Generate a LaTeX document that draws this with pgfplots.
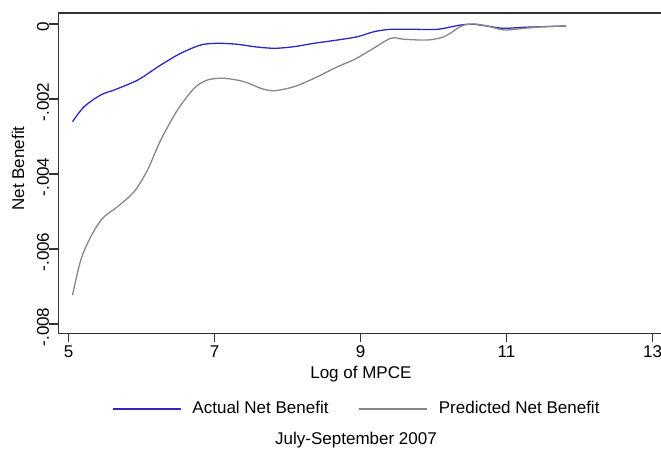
\documentclass[border=0pt]{standalone}
\usepackage{fontspec}
\setmainfont{Liberation Sans}
\usepackage{pgfplots}
\pgfplotsset{compat=1.18}
\definecolor{nbblue}{RGB}{45,40,190}
\definecolor{nbgray}{RGB}{135,135,135}
\newcommand{\bigf}{\fontsize{17bp}{20bp}\selectfont}
\begin{document}
\bigf
\begin{tikzpicture}
\useasboundingbox (-58.3bp,-115.7bp) rectangle (602.7bp,333.3bp);
\begin{axis}[
  at={(0,0)}, anchor=south west,
  scale only axis, width=602.7bp, height=320.3bp,
  xmin=4.86, xmax=13.116, ymin=-0.008248, ymax=0.000293,
  scaled y ticks=false, scaled x ticks=false,
  axis x line=box, axis y line=left,
  axis line style={-, line width=1.5bp, color=black!80},
  xtick={5,7,9,11,13}, xticklabels={5,7,9,11,13}, xtick pos=bottom,
  ytick={-0.008,-0.006,-0.004,-0.002,0},
  yticklabels={-.008,-.006,-.004,-.002,0},
  tick align=outside, major tick length=9bp,
  tick style={line width=1.3bp, color=black!80},
  every tick label/.append style={font=\bigf},
  yticklabel style={rotate=90, anchor=south, inner sep=0pt, xshift=-3bp},
  xticklabel style={anchor=north, inner sep=0pt, yshift=-3bp},
  xlabel={Log of MPCE},
  ylabel={Net Benefit},
  every axis label/.append style={font=\bigf},
  xlabel style={at={(axis description cs:0.502,0)}, yshift=-45.5bp, anchor=base},
  ylabel style={at={(axis description cs:-0.0669,0.5145)}, anchor=center},
  legend columns=2,
  legend style={at={(axis description cs:0.0891,-0.2364)}, anchor=west, draw=none, fill=none,
    inner sep=0pt, column sep=0pt, font=\bigf, nodes={inner sep=0pt}},
  legend image code/.code={\draw[#1, line width=1.3bp] (0bp,0bp) -- (68bp,0bp);},
  /tikz/every odd column/.append style={column sep=11bp},
  /tikz/every even column/.append style={column sep=30bp},
]
\addplot[nbblue, line width=1.3bp, smooth] coordinates {
(5.055,-0.002605) (5.214,-0.002205) (5.442,-0.001893) (5.625,-0.00176)
(5.853,-0.001581) (5.990,-0.001448) (6.264,-0.001093) (6.538,-0.000781)
(6.812,-0.00056) (7.041,-0.000515) (7.315,-0.000541) (7.542,-0.000605)
(7.816,-0.000648) (8.090,-0.000605) (8.364,-0.000515) (8.685,-0.000427)
(8.959,-0.000339) (9.186,-0.000205) (9.415,-0.000142) (9.734,-0.000142)
(10.055,-0.000142) (10.374,-0.000027) (10.556,-0.000008) (10.785,-0.000072)
(10.967,-0.000115) (11.241,-0.000088) (11.515,-0.000072) (11.812,-0.000053)
};
\addlegendentry{Actual Net Benefit}
\addplot[nbgray, line width=1.3bp, smooth] coordinates {
(5.055,-0.007227) (5.168,-0.006293) (5.305,-0.005672) (5.466,-0.005181)
(5.671,-0.004872) (5.899,-0.004472) (6.082,-0.003893) (6.264,-0.003093)
(6.493,-0.002293) (6.721,-0.001715) (6.904,-0.001493) (7.132,-0.001448)
(7.405,-0.001539) (7.634,-0.001715) (7.816,-0.001779) (8.090,-0.001672)
(8.364,-0.001448) (8.685,-0.001139) (8.912,-0.000950) (9.141,-0.000693)
(9.415,-0.000381) (9.597,-0.000408) (9.918,-0.000427) (10.145,-0.000339)
(10.329,-0.000115) (10.419,-0.000027) (10.556,0) (10.740,-0.000053)
(10.967,-0.00016) (11.241,-0.000115) (11.515,-0.000072) (11.812,-0.000053)
};
\addlegendentry{Predicted Net Benefit}
\end{axis}
\node[font=\bigf, anchor=center] at (297.7bp,-106.7bp) {July-September 2007};
\end{tikzpicture}
\end{document}
